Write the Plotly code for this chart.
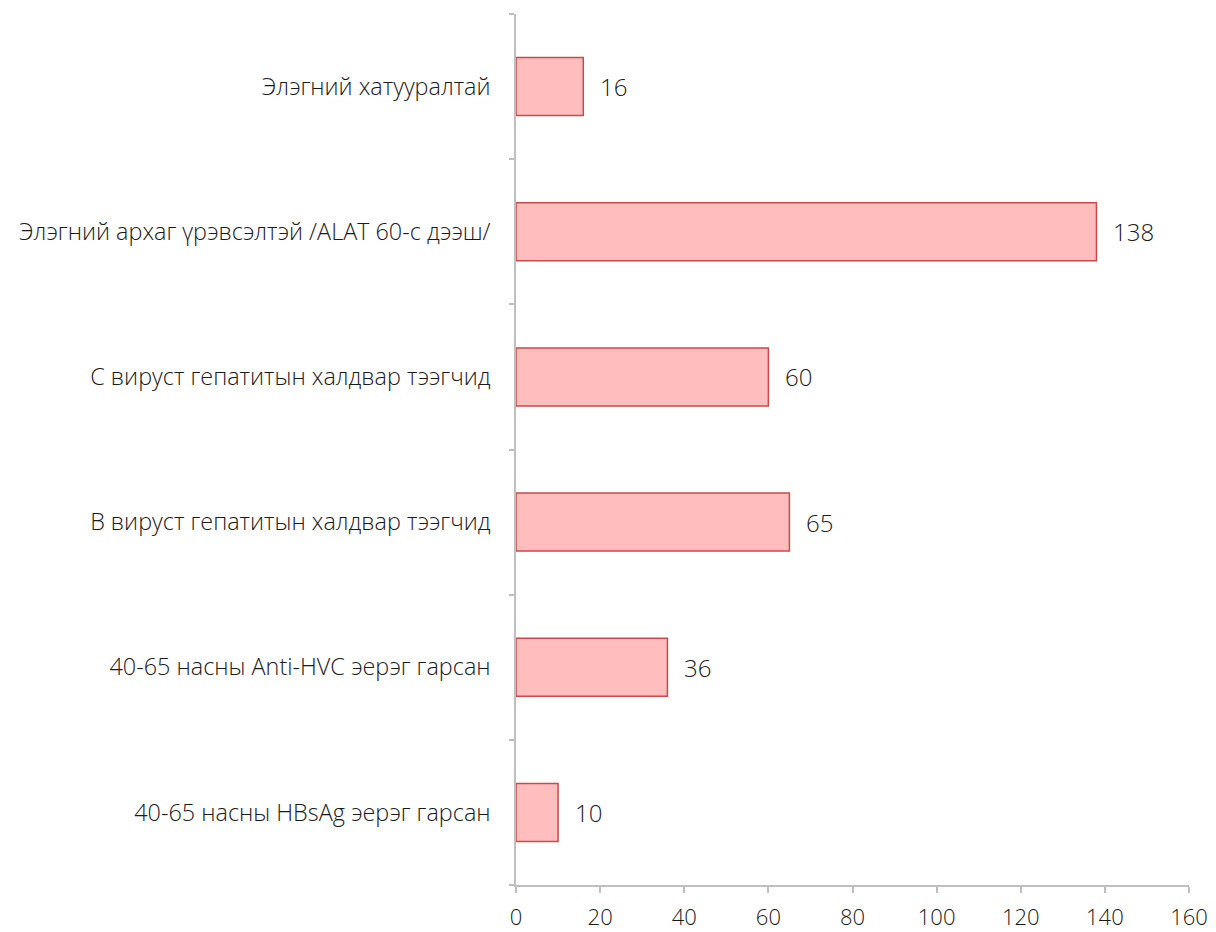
import plotly.graph_objects as go

categories = [
    "40-65 насны HBsAg эерэг гарсан",
    "40-65 насны Anti-HVC эерэг гарсан",
    "В вируст гепатитын халдвар тээгчид",
    "С вируст гепатитын халдвар тээгчид",
    "Элэгний архаг үрэвсэлтэй /ALAT 60-с дээш/",
    "Элэгний хатууралтай",
]
values = [10, 36, 65, 60, 138, 16]
x_ticks = [0, 20, 40, 60, 80, 100, 120, 140, 160]

FONT = "Open Sans, sans-serif"
FS = 24
TXT = "#1a1a1a"

fig = go.Figure()
fig.add_trace(go.Bar(
    x=values,
    y=categories,
    orientation="h",
    marker=dict(color="#FFBDBD", line=dict(color="#C94A48", width=1.5)),
    hoverinfo="x+y",
))

for v, c in zip(values, categories):
    fig.add_annotation(
        x=v, y=c, text=str(v), showarrow=False,
        xanchor="left", xshift=15,
        font=dict(family=FONT, size=FS, color=TXT, weight=300),
    )

fig.update_layout(
    width=1208, height=922,
    margin=dict(l=508, r=27, t=6, b=45, autoexpand=False),
    paper_bgcolor="white", plot_bgcolor="white",
    bargap=0.6,
    showlegend=False,
    font=dict(family=FONT, size=FS, color=TXT, weight=300),
    xaxis=dict(
        range=[0, 160], tickvals=x_ticks,
        showgrid=False, zeroline=False,
        showline=True, linecolor="#BFBFBF", linewidth=1.5,
        ticks="outside", ticklen=6, tickcolor="#BFBFBF", tickwidth=1.5,
        ticklabelstandoff=6,
        ticklabeloverflow="allow",
        tickfont=dict(family=FONT, size=22, color=TXT, weight=300),
    ),
    yaxis=dict(
        type="category", categoryorder="array", categoryarray=categories,
        showgrid=False, zeroline=False,
        showline=True, linecolor="#BFBFBF", linewidth=1.5,
        ticks="outside", ticklen=5, tickcolor="#BFBFBF", tickwidth=1.5,
        tickson="boundaries",
        ticklabelstandoff=19,
        tickfont=dict(family=FONT, size=23.4, color=TXT, weight=300),
    ),
)

fig.write_html("out.html")
